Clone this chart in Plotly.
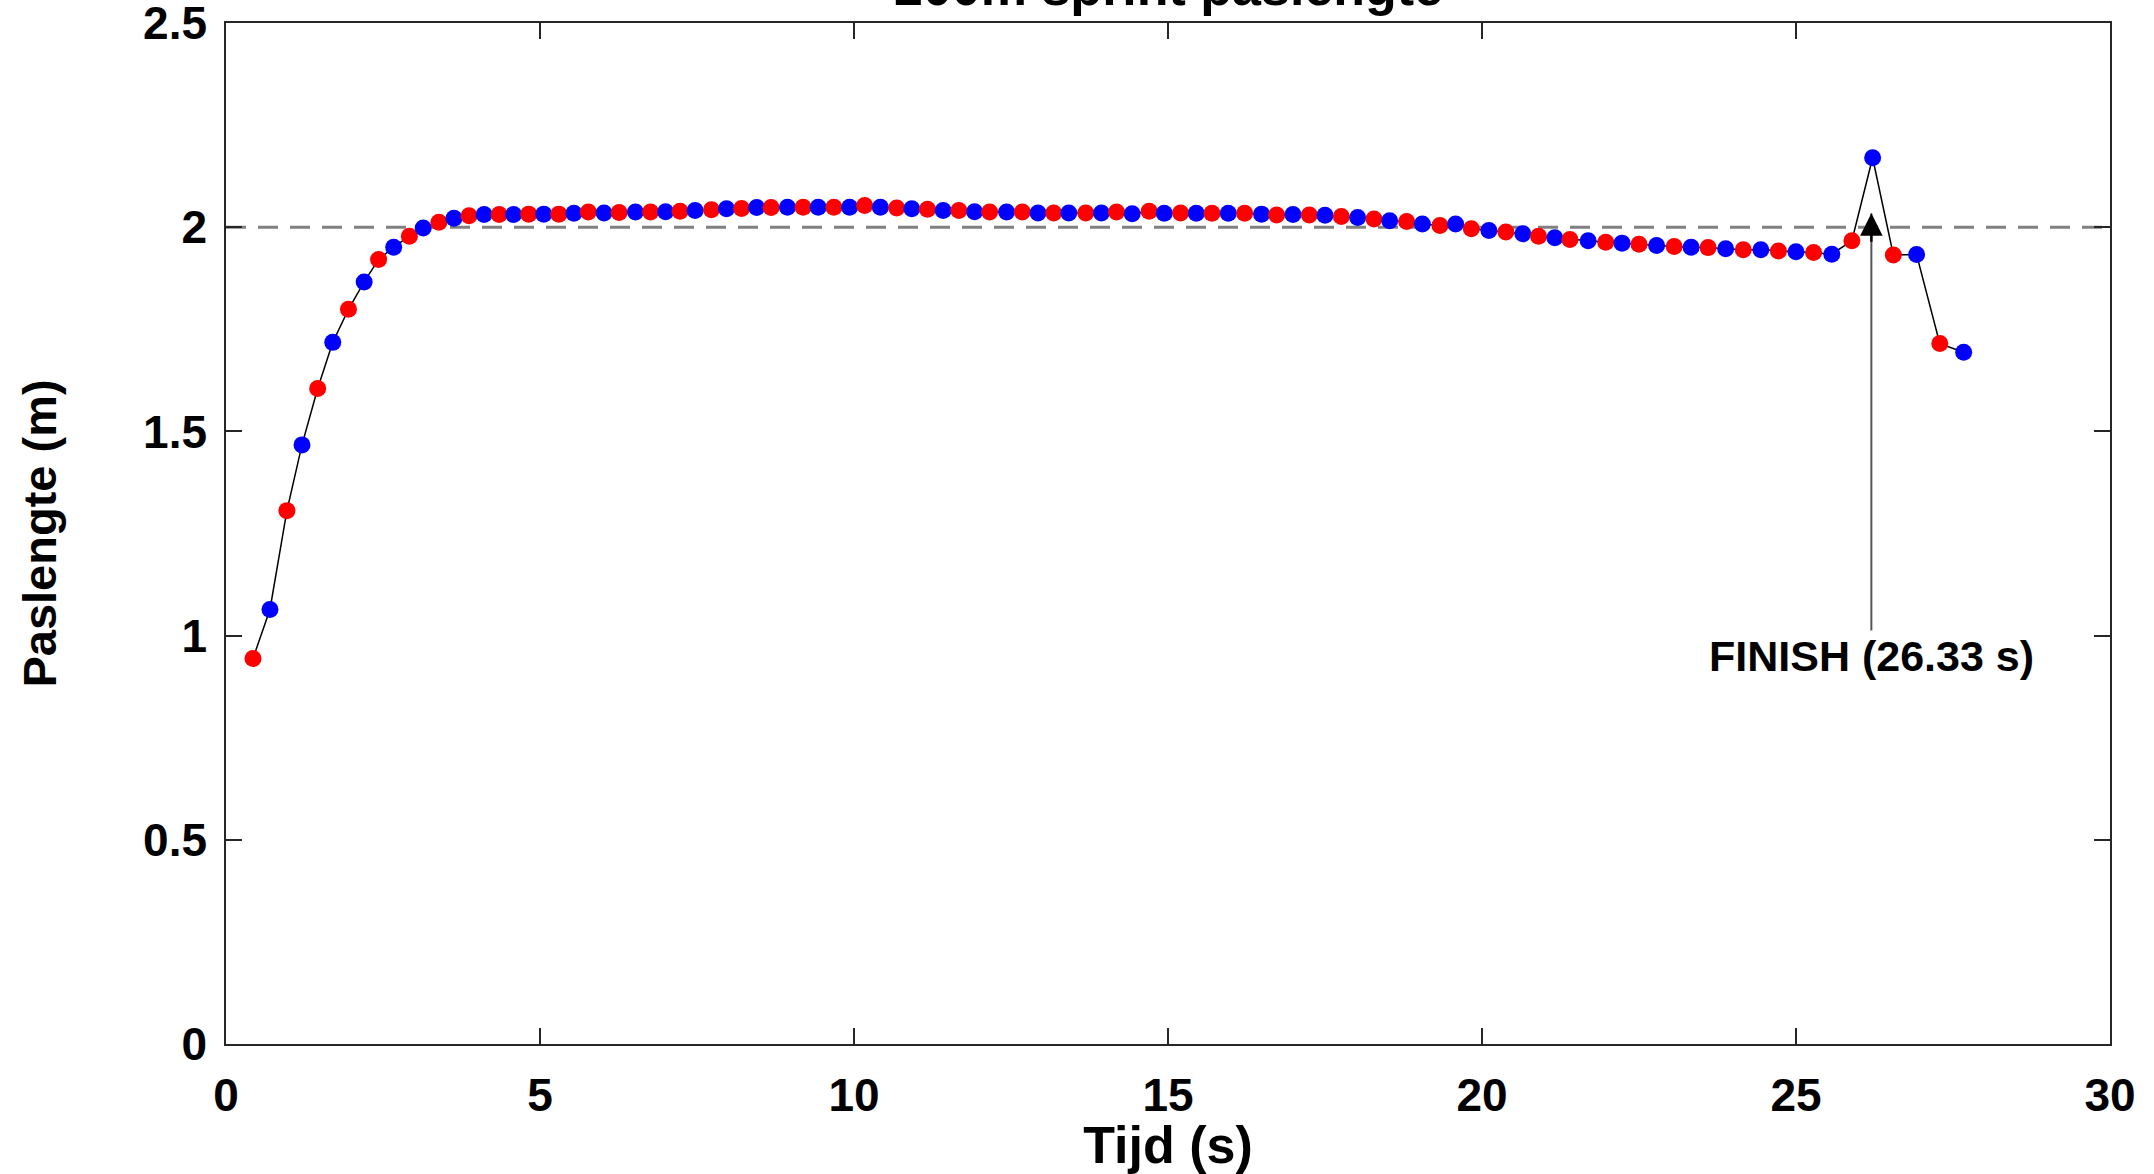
import plotly.graph_objects as go

# ---- data ----
tijd_s = [0.43, 0.70, 0.97, 1.21, 1.46, 1.70, 1.95, 2.20, 2.43, 2.67,
          2.92, 3.14, 3.39, 3.63, 3.87, 4.11, 4.35, 4.58, 4.82, 5.06,
          5.30, 5.54, 5.77, 6.02, 6.26, 6.52, 6.76, 7.00, 7.23, 7.47,
          7.73, 7.97, 8.21, 8.45, 8.68, 8.94, 9.19, 9.43, 9.68, 9.93,
          10.17, 10.42, 10.68, 10.92, 11.17, 11.42, 11.67, 11.92, 12.16, 12.43,
          12.68, 12.93, 13.18, 13.42, 13.69, 13.94, 14.18, 14.43, 14.70, 14.94,
          15.20, 15.45, 15.70, 15.96, 16.22, 16.49, 16.73, 16.99, 17.25, 17.50,
          17.76, 18.02, 18.28, 18.53, 18.80, 19.05, 19.33, 19.58, 19.83, 20.11,
          20.38, 20.65, 20.90, 21.16, 21.40, 21.69, 21.97, 22.23, 22.50, 22.78,
          23.06, 23.33, 23.60, 23.88, 24.16, 24.44, 24.72, 25.00, 25.28, 25.57,
          25.89, 26.22, 26.55, 26.92, 27.29, 27.67]

paslengte_m = [0.944, 1.064, 1.306, 1.467, 1.605, 1.718, 1.799, 1.866, 1.921, 1.951,
               1.978, 1.998, 2.012, 2.022, 2.028, 2.031, 2.031, 2.031, 2.032, 2.032,
               2.032, 2.034, 2.037, 2.035, 2.036, 2.037, 2.037, 2.038, 2.039, 2.041,
               2.043, 2.045, 2.046, 2.048, 2.048, 2.049, 2.049, 2.049, 2.049, 2.049,
               2.053, 2.049, 2.047, 2.045, 2.044, 2.041, 2.041, 2.038, 2.037, 2.037,
               2.037, 2.035, 2.035, 2.035, 2.035, 2.035, 2.037, 2.033, 2.039, 2.034,
               2.035, 2.034, 2.034, 2.034, 2.034, 2.032, 2.030, 2.031, 2.030, 2.029,
               2.026, 2.024, 2.020, 2.016, 2.014, 2.008, 2.004, 2.008, 1.996, 1.992,
               1.988, 1.984, 1.978, 1.974, 1.970, 1.967, 1.963, 1.961, 1.958, 1.955,
               1.953, 1.951, 1.950, 1.947, 1.945, 1.945, 1.942, 1.940, 1.938, 1.934,
               1.967, 2.170, 1.932, 1.933, 1.715, 1.694]

referentie_m = 2.0
finish_tijd = 26.2          # where the arrow sits in the picture
finish_tekst = "FINISH (26.33 s)"
finish_tekst_y = 0.95
finish_pijl_y = 2.034

x_ticks = [0, 5, 10, 15, 20, 25, 30]
y_ticks = [0, 0.5, 1, 1.5, 2, 2.5]

titel = "200m sprint paslengte"
x_label = "Tijd (s)"
y_label = "Paslengte (m)"

# ---- styling ----
FONT = "Liberation Sans, Arial, sans-serif"
AX = "#262626"
marker_colors = ["red" if i % 2 == 0 else "blue" for i in range(len(tijd_s))]

fig = go.Figure()
fig.add_trace(go.Scatter(x=tijd_s, y=paslengte_m, mode="lines",
                         line=dict(color="black", width=1.5),
                         hoverinfo="skip", showlegend=False))
fig.add_trace(go.Scatter(x=tijd_s, y=paslengte_m, mode="markers",
                         marker=dict(color=marker_colors, size=17, line=dict(width=0)),
                         showlegend=False))

fig.add_shape(type="line", xref="x", yref="y", x0=0, x1=30,
              y0=referentie_m, y1=referentie_m, layer="below",
              line=dict(color="#808080", width=3, dash="20px,12px"))

# finish annotation: grey shaft + black head
fig.add_annotation(x=finish_tijd, y=finish_pijl_y, xref="x", yref="y",
                   ax=finish_tijd, ay=finish_tekst_y, axref="x", ayref="y",
                   text="<b>" + finish_tekst + "</b>", showarrow=True,
                   arrowhead=0, arrowwidth=2, arrowcolor="#555555",
                   font=dict(family=FONT, size=43, color="black"))
fig.add_annotation(x=finish_tijd, y=finish_pijl_y, xref="x", yref="y",
                   ax=0, ay=30, text="", showarrow=True,
                   arrowhead=2, arrowsize=1.8, arrowwidth=2.5, arrowcolor="black")

# title (partly cut off at the top, as in the reference)
fig.add_annotation(x=0.5, y=1, xref="paper", yref="paper", yanchor="middle",
                   yshift=36, text="<b>" + titel + "</b>", showarrow=False,
                   font=dict(family=FONT, size=52, color="black"))

axis_common = dict(showline=True, linecolor=AX, linewidth=1.5, mirror="ticks",
                   ticks="inside", ticklen=16, tickwidth=1.5, tickcolor=AX,
                   showgrid=False, zeroline=False, ticklabeloverflow="allow",
                   automargin=False,
                   tickfont=dict(family=FONT, size=46, color="black", weight="bold"))

fig.update_xaxes(range=[0, 30], tickvals=x_ticks, ticklabelstandoff=10,
                 title=dict(text=x_label, standoff=10,
                            font=dict(family=FONT, size=52, color="black", weight="bold")),
                 **axis_common)
fig.update_yaxes(range=[0, 2.5], tickvals=y_ticks, ticklabelstandoff=8,
                 title=dict(text=y_label, standoff=72,
                            font=dict(family=FONT, size=47, color="black", weight="bold")),
                 **axis_common)

fig.update_layout(width=2154, height=1174, autosize=False,
                  margin=dict(l=226, r=44, t=23, b=130),
                  paper_bgcolor="white", plot_bgcolor="white",
                  font=dict(family=FONT, color="black"))

fig.write_html("out.html")
